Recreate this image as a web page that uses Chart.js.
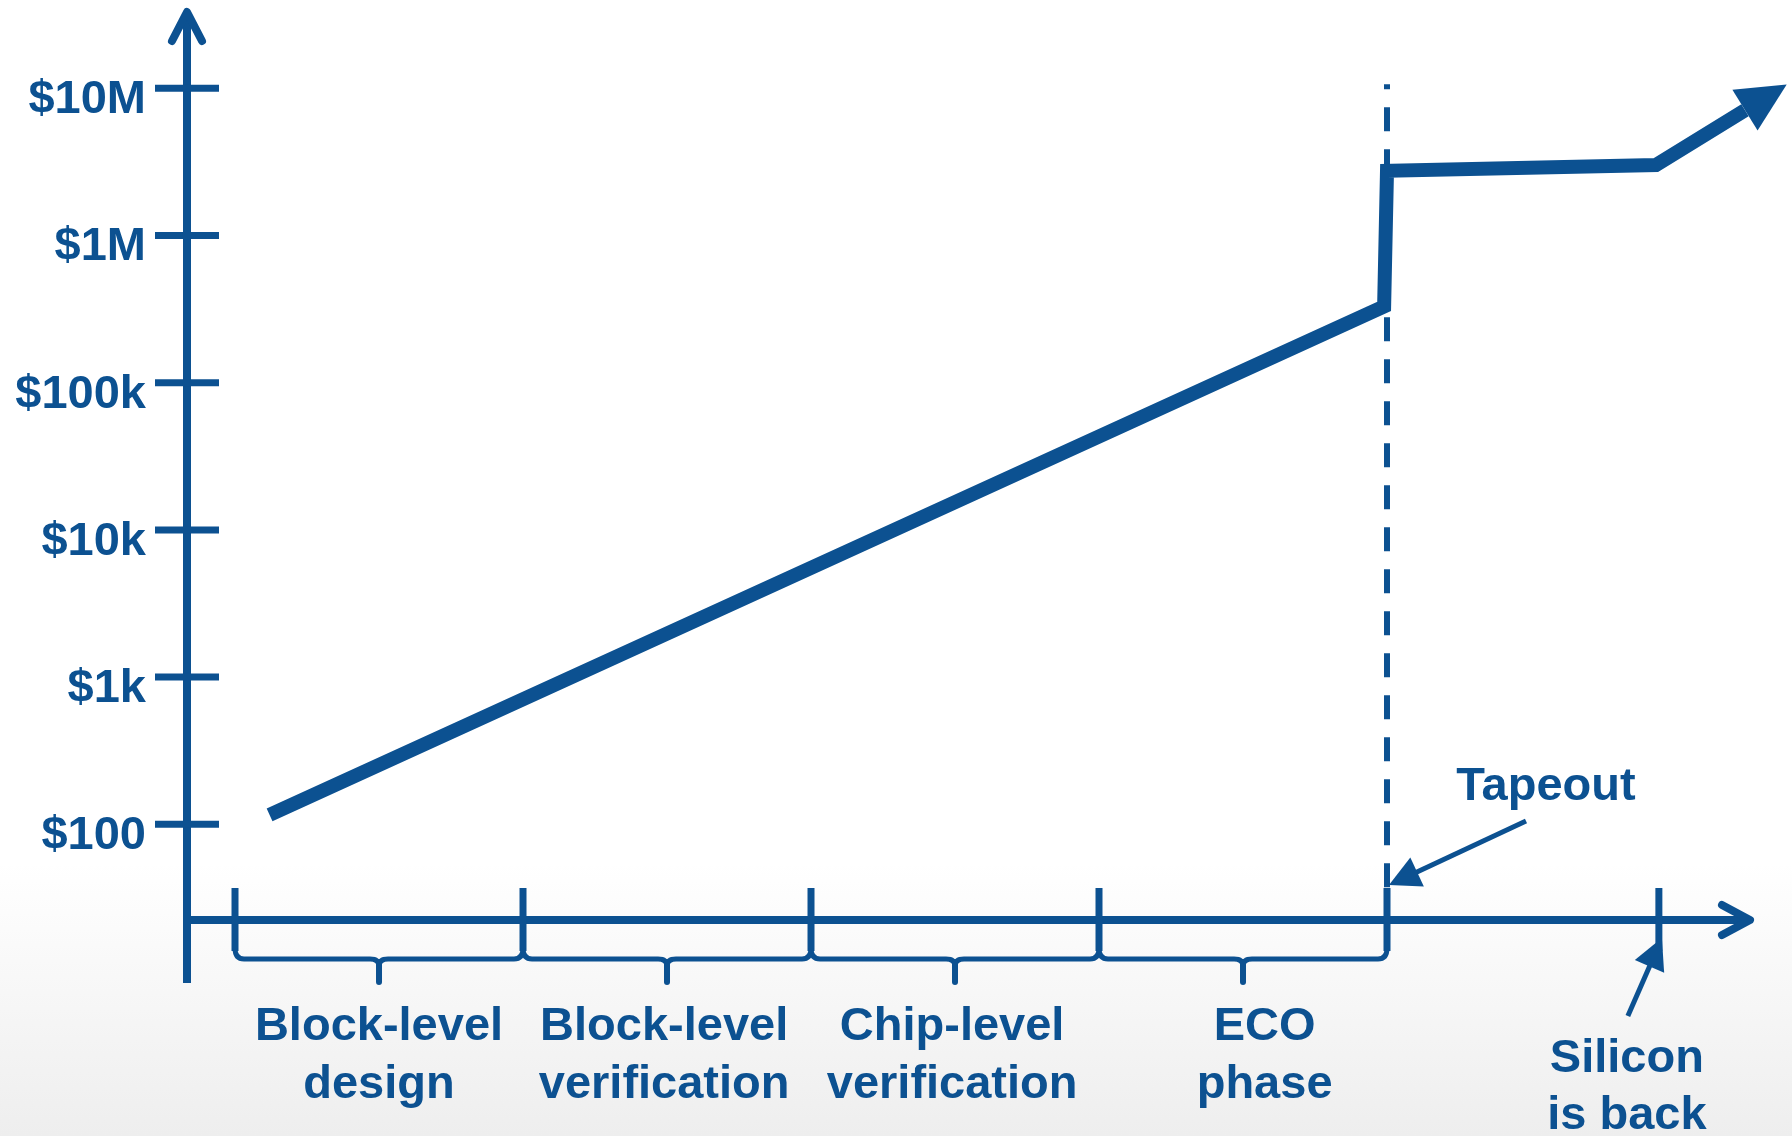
<!DOCTYPE html>
<html>
<head>
<meta charset="utf-8">
<script src="https://cdn.jsdelivr.net/npm/chart.js@4.4.1/dist/chart.umd.min.js"></script>
<style>
  html, body { margin: 0; padding: 0; }
  body {
    width: 1792px; height: 1136px; overflow: hidden;
    background: linear-gradient(to bottom, #ffffff 0%, #ffffff 76%, #eeeeee 100%);
  }
  #wrap { position: relative; width: 1792px; height: 1136px; }
</style>
</head>
<body>
<div id="wrap"><canvas id="costChart"></canvas></div>
<script>
// Phases along the time axis (one unit per phase)
const phaseLabels = [['Block-level', 'design'], ['Block-level', 'verification'], ['Chip-level', 'verification'], ['ECO', 'phase']];
const phaseEdges = [0, 1, 2, 3, 4];
const tapeoutAt = 4;
const siliconBackAt = 4.944;

// Cost axis (log)
const costTicks = [100, 1e3, 1e4, 1e5, 1e6, 1e7];
const costTickLabels = ['$100', '$1k', '$10k', '$100k', '$1M', '$10M'];

// Cost of fixing a bug over time
const costX = [0.12, 3.99, 4.0, 4.934, 5.243];
const costY = [116, 330000, 2750000, 3010000, 7100000];

const BLUE = '#0c5191';
const FONT = 'bold 47px "Liberation Sans", Arial, sans-serif';
// label text boxes are not all centred on their bracket in the original
const labelShift = [0, -0.01, -0.01, 0.075];

function drawHead(ctx, tipX, tipY, ux, uy, len, half) {
    const bx = tipX - ux * len, by = tipY - uy * len;
    ctx.beginPath();
    ctx.moveTo(tipX, tipY);
    ctx.lineTo(bx - uy * half, by + ux * half);
    ctx.lineTo(bx + uy * half, by - ux * half);
    ctx.closePath();
    ctx.fill();
}

function pointerArrow(ctx, fromX, fromY, tipX, tipY) {
    const d = Math.hypot(tipX - fromX, tipY - fromY);
    const ux = (tipX - fromX) / d, uy = (tipY - fromY) / d;
    ctx.lineWidth = 5;
    ctx.lineCap = 'butt';
    ctx.beginPath();
    ctx.moveTo(fromX, fromY);
    ctx.lineTo(tipX - ux * 22, tipY - uy * 22);
    ctx.stroke();
    drawHead(ctx, tipX, tipY, ux, uy, 31, 16);
}

const axesPlugin = {
    id: 'axesPlugin',
    beforeDatasetsDraw(chart) {
        const { ctx, chartArea, scales: { x, y } } = chart;
        const x0 = chartArea.left, y0 = chartArea.bottom;
        ctx.save();
        ctx.strokeStyle = BLUE;
        ctx.fillStyle = BLUE;

        // dashed tapeout marker
        const tx = x.getPixelForValue(tapeoutAt);
        ctx.lineWidth = 6;
        ctx.setLineDash([24, 18]);
        ctx.lineDashOffset = 19;
        ctx.beginPath();
        ctx.moveTo(tx, y.getPixelForValue(1e7) - 4);
        ctx.lineTo(tx, y0 - 32);
        ctx.stroke();
        ctx.setLineDash([]);

        // y axis + arrow
        ctx.lineWidth = 8;
        ctx.lineCap = 'butt';
        ctx.beginPath();
        ctx.moveTo(x0, y0 + 63);
        ctx.lineTo(x0, chartArea.top + 6);
        ctx.stroke();
        ctx.lineCap = 'round';
        ctx.lineJoin = 'round';
        ctx.beginPath();
        ctx.moveTo(x0 - 15, chartArea.top + 33);
        ctx.lineTo(x0, chartArea.top + 4);
        ctx.lineTo(x0 + 15, chartArea.top + 33);
        ctx.stroke();

        // x axis + arrow
        ctx.lineCap = 'butt';
        ctx.beginPath();
        ctx.moveTo(x0 - 4, y0);
        ctx.lineTo(chartArea.right - 6, y0);
        ctx.stroke();
        ctx.lineCap = 'round';
        ctx.beginPath();
        ctx.moveTo(chartArea.right - 32, y0 - 15);
        ctx.lineTo(chartArea.right - 4, y0);
        ctx.lineTo(chartArea.right - 32, y0 + 15);
        ctx.stroke();

        // y ticks and labels
        ctx.lineCap = 'butt';
        ctx.lineWidth = 7;
        ctx.font = FONT;
        ctx.textAlign = 'right';
        ctx.textBaseline = 'alphabetic';
        costTicks.forEach((v, i) => {
            const py = y.getPixelForValue(v);
            ctx.beginPath();
            ctx.moveTo(x0 - 32, py);
            ctx.lineTo(x0 + 32, py);
            ctx.stroke();
            ctx.fillText(costTickLabels[i], x0 - 41, py + 25);
        });

        // x ticks
        phaseEdges.concat([siliconBackAt]).forEach(v => {
            const px = x.getPixelForValue(v);
            ctx.beginPath();
            ctx.moveTo(px, y0 - 32);
            ctx.lineTo(px, y0 + 31);
            ctx.stroke();
        });

        // phase brackets
        const by = y0 + 39;
        for (let i = 0; i < phaseLabels.length; i++) {
            const a = x.getPixelForValue(phaseEdges[i]);
            const b = x.getPixelForValue(phaseEdges[i + 1]);
            const c = (a + b) / 2;
            ctx.lineWidth = 5;
            ctx.lineCap = 'butt';
            ctx.beginPath();
            ctx.moveTo(a, y0 + 28);
            ctx.quadraticCurveTo(a, by, a + 9, by);
            ctx.lineTo(c - 9, by);
            ctx.quadraticCurveTo(c, by, c, by + 7);
            ctx.quadraticCurveTo(c, by, c + 9, by);
            ctx.lineTo(b - 9, by);
            ctx.quadraticCurveTo(b, by, b, y0 + 28);
            ctx.stroke();
            ctx.lineWidth = 6;
            ctx.lineCap = 'round';
            ctx.beginPath();
            ctx.moveTo(c, by + 3);
            ctx.lineTo(c, y0 + 62);
            ctx.stroke();
        }
        ctx.restore();
    },
    afterDatasetsDraw(chart) {
        const { ctx, chartArea, scales: { x } } = chart;
        const y0 = chartArea.bottom;
        ctx.save();
        ctx.strokeStyle = BLUE;
        ctx.fillStyle = BLUE;

        // arrowhead at the end of the cost line
        const pts = chart.getDatasetMeta(0).data;
        const p1 = pts[pts.length - 2], p2 = pts[pts.length - 1];
        const d = Math.hypot(p2.x - p1.x, p2.y - p1.y);
        const ux = (p2.x - p1.x) / d, uy = (p2.y - p1.y) / d;
        drawHead(ctx, p2.x + ux * 49, p2.y + uy * 49, ux, uy, 49, 24);

        // phase labels
        ctx.font = FONT;
        ctx.textAlign = 'center';
        ctx.textBaseline = 'alphabetic';
        phaseLabels.forEach((lines, i) => {
            const cx = x.getPixelForValue(phaseEdges[i] + 0.5 + labelShift[i]);
            lines.forEach((t, j) => ctx.fillText(t, cx, y0 + 120 + j * 58));
        });

        // Tapeout annotation
        const tx = x.getPixelForValue(tapeoutAt);
        pointerArrow(ctx, tx + 139, y0 - 99, tx + 2, y0 - 35);
        ctx.fillText('Tapeout', tx + 159, y0 - 120);

        // Silicon is back annotation
        const sx = x.getPixelForValue(siliconBackAt);
        pointerArrow(ctx, sx - 31, y0 + 96, sx + 3, y0 + 18);
        ctx.fillText('Silicon', sx - 32, y0 + 152);
        ctx.fillText('is back', sx - 32, y0 + 209);
        ctx.restore();
    }
};

new Chart(document.getElementById('costChart'), {
    type: 'line',
    data: {
        datasets: [{
            label: 'Cost',
            data: costX.map((v, i) => ({ x: v, y: costY[i] })),
            borderColor: BLUE,
            borderWidth: 14,
            borderCapStyle: 'butt',
            borderJoinStyle: 'miter',
            pointRadius: 0,
            tension: 0,
            fill: false,
            clip: false
        }]
    },
    options: {
        responsive: true,
        maintainAspectRatio: false,
        animation: false,
        layout: { padding: { left: 187, top: 8, right: 38, bottom: 216 } },
        scales: {
            x: { type: 'linear', display: false, min: -0.1667, max: 5.2743 },
            y: { type: 'logarithmic', display: false, min: Math.pow(10, 1.3498), max: Math.pow(10, 7.5455) }
        },
        plugins: { legend: { display: false }, tooltip: { enabled: false } }
    },
    plugins: [axesPlugin]
});
</script>
</body>
</html>
